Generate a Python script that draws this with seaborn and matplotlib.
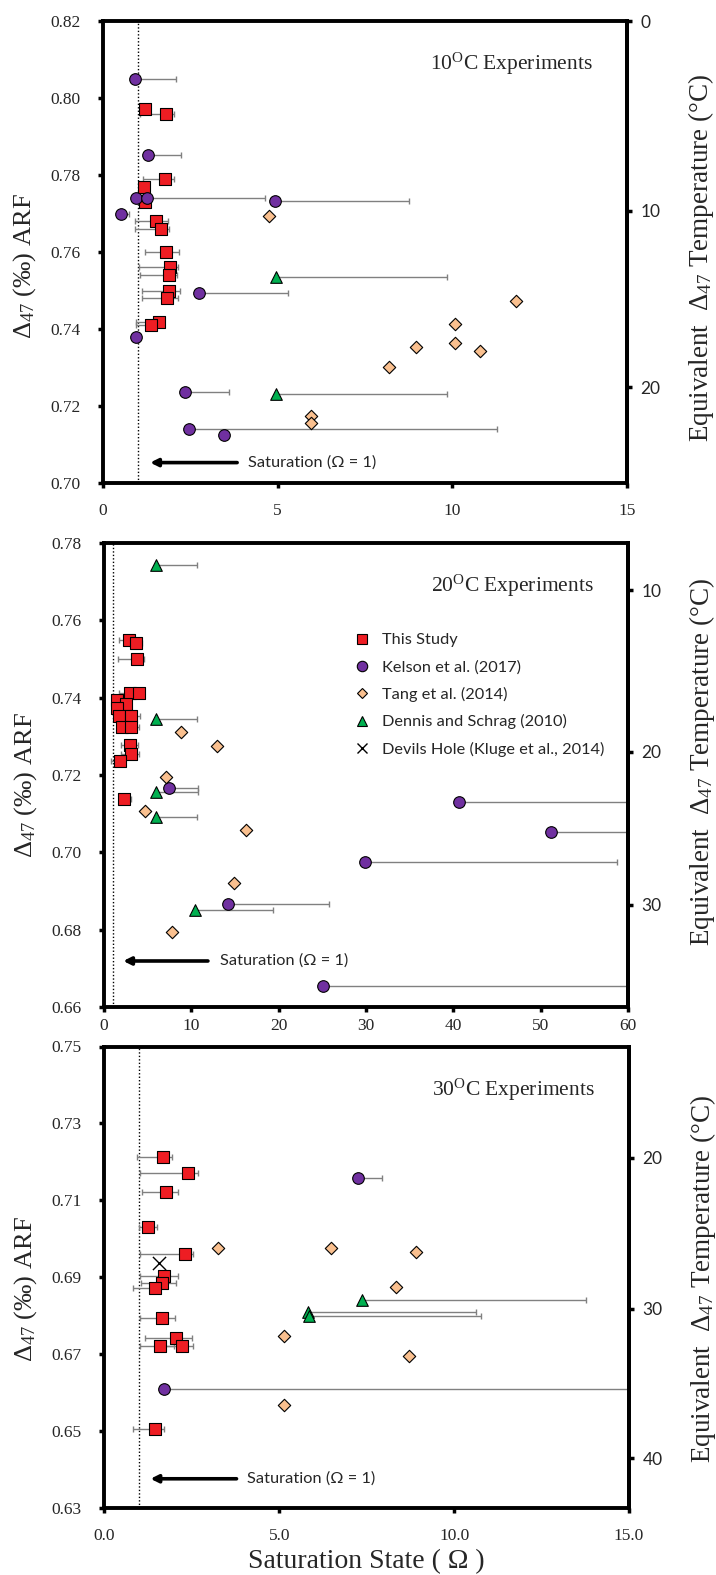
import numpy as np
import pandas as pd
import matplotlib
matplotlib.use("Agg")
import matplotlib.pyplot as plt
from matplotlib.lines import Line2D
import seaborn as sns

# ---------------- DATA ----------------
# Panel 1: 10 C experiments
p10_study_x = [1.19, 1.79, 1.77, 1.16, 1.19, 1.51, 1.67, 1.79, 1.93, 1.88, 1.90, 1.83, 1.59, 1.38]
p10_study_y = [0.7971, 0.7958, 0.7790, 0.7768, 0.7729, 0.7680, 0.7659, 0.7599, 0.7560, 0.7539, 0.7499, 0.7481, 0.7418, 0.7410]
p10_study_lo = [1.19, 1.06, 1.14, 1.16, 1.19, 0.91, 0.91, 1.19, 1.03, 1.06, 1.13, 1.13, 0.94, 0.94]
p10_study_hi = [1.19, 2.04, 2.04, 1.16, 1.19, 1.85, 1.90, 2.18, 2.16, 2.12, 2.21, 2.16, 1.75, 1.60]
p10_kelson_x = [0.92, 1.30, 0.94, 1.27, 4.92, 0.51, 2.74, 0.94, 2.34, 2.45, 3.46]
p10_kelson_y = [0.8049, 0.7852, 0.7740, 0.7740, 0.7732, 0.7698, 0.7494, 0.7380, 0.7237, 0.7141, 0.7124]
p10_kelson_hi = [2.10, 2.24, 0.94, 4.63, 8.75, 0.75, 5.31, 0.94, 3.60, 11.28, 3.46]
p10_tang_x = [4.75, 11.81, 10.07, 10.07, 8.96, 10.78, 8.18, 5.95, 5.95]
p10_tang_y = [0.7694, 0.7474, 0.7413, 0.7363, 0.7353, 0.7344, 0.7302, 0.7175, 0.7155]
p10_dennis_x = [4.96, 4.96]
p10_dennis_y = [0.7536, 0.7230]
p10_dennis_hi = [9.85, 9.85]

# Panel 2: 20 C experiments
p20_study_x = [2.90, 3.62, 3.81, 3.01, 4.00, 1.52, 2.52, 1.52, 1.75, 3.13, 2.10, 3.05, 3.01, 3.09, 1.87, 2.33]
p20_study_y = [0.7549, 0.7541, 0.7500, 0.7413, 0.7413, 0.7394, 0.7383, 0.7373, 0.7353, 0.7353, 0.7323, 0.7323, 0.7277, 0.7254, 0.7235, 0.7138]
p20_study_lo = [1.75, 2.90, 1.64, 1.75, 4.00, 1.52, 2.00, 1.52, 1.75, 2.00, 2.10, 2.00, 2.00, 2.00, 0.76, 2.33]
p20_study_hi = [3.90, 4.38, 4.61, 3.50, 4.00, 1.52, 3.00, 1.52, 1.75, 4.12, 2.10, 4.00, 3.90, 4.00, 1.87, 3.05]
p20_kelson_x = [7.47, 29.9, 14.15, 25.1, 40.65, 51.2]
p20_kelson_y = [0.7166, 0.6975, 0.6866, 0.6654, 0.7131, 0.7052]
p20_kelson_hi = [10.79, 58.7, 25.8, 70.0, 70.0, 70.0]
p20_tang_x = [8.81, 12.97, 7.06, 4.73, 16.29, 14.84, 7.74]
p20_tang_y = [0.7312, 0.7275, 0.7196, 0.7107, 0.7058, 0.6921, 0.6793]
p20_dennis_x = [5.99, 5.99, 5.99, 5.99, 10.37]
p20_dennis_y = [0.7743, 0.7344, 0.7155, 0.7091, 0.6851]
p20_dennis_hi = [10.68, 10.68, 10.79, 10.68, 19.4]

# Panel 3: 30 C experiments
p30_study_x = [1.69, 2.40, 1.75, 1.26, 2.32, 1.71, 1.66, 1.45, 1.66, 2.05, 1.60, 2.23, 1.45]
p30_study_y = [0.7212, 0.7172, 0.7121, 0.7031, 0.6961, 0.6903, 0.6884, 0.6872, 0.6795, 0.6743, 0.6722, 0.6722, 0.6506]
p30_study_lo = [0.93, 1.02, 1.09, 0.98, 1.02, 1.02, 1.04, 0.83, 1.02, 1.15, 1.02, 1.60, 0.83]
p30_study_hi = [1.93, 2.67, 2.10, 1.50, 2.53, 2.10, 2.05, 1.60, 2.02, 2.52, 2.00, 2.55, 1.70]
p30_kelson_x = [7.24, 1.71]
p30_kelson_y = [0.7157, 0.6609]
p30_kelson_hi = [7.94, 20.0]
p30_tang_x = [3.26, 6.47, 8.92, 8.33, 5.14, 8.72, 5.14]
p30_tang_y = [0.6975, 0.6975, 0.6966, 0.6875, 0.6747, 0.6696, 0.6568]
p30_dennis_x = [7.36, 5.81, 5.86]
p30_dennis_y = [0.6840, 0.6809, 0.6798]
p30_dennis_hi = [13.78, 10.63, 10.76]
p30_devils_x = [1.57]
p30_devils_y = [0.6936]

# Right-axis (equivalent temperature) tick labels and their Delta47 positions
p10_T = [0, 10, 20]
p10_T_pos = [0.8200, 0.7707, 0.7249]
p20_T = [10, 20, 30]
p20_T_pos = [0.7678, 0.7260, 0.6864]
p30_T = [20, 30, 40]
p30_T_pos = [0.7211, 0.6818, 0.6429]

series_names = ["This Study", "Kelson et al. (2017)", "Tang et al. (2014)",
                "Dennis and Schrag (2010)", "Devils Hole (Kluge et al., 2014)"]

# ---------------- STYLE ----------------
sns.set_theme(style="white")
SERIF = ["Liberation Serif", "DejaVu Serif"]
SANS = ["Lato", "DejaVu Sans"]
plt.rcParams["font.family"] = SERIF
plt.rcParams["mathtext.fontset"] = "custom"
plt.rcParams["mathtext.rm"] = "Liberation Serif"
plt.rcParams["mathtext.it"] = "Liberation Serif:italic"
plt.rcParams["mathtext.bf"] = "Liberation Serif:bold"

RED = "#EE1D23"
PURPLE = "#7030A0"
TAN = "#FAC08F"
GREEN = "#00B050"
ERR = "#808080"

fig = plt.figure(figsize=(7.16, 15.75), dpi=100)


def errbars(ax, x, y, lo, hi):
    x = np.asarray(x); y = np.asarray(y)
    lo = np.asarray(lo); hi = np.asarray(hi)
    ax.errorbar(x, y, xerr=[x - lo, hi - x], fmt="none", ecolor=ERR,
                elinewidth=1.0, capsize=2.5, capthick=1.0, zorder=2)


def pts(ax, x, y, marker, color, s):
    sns.scatterplot(x=x, y=y, marker=marker, color=color, s=s,
                    edgecolor="black", linewidth=0.8, ax=ax, zorder=3,
                    legend=False)


def panel(rect, xlim, xticks, xfmt, ylim, yticks, Tlab, Tpos, title,
          arrow, ylab_y, rlab_y, data, legend=False, xpad=4):
    ax = fig.add_axes(rect)
    for (kind, d) in data:
        if kind == "study":
            errbars(ax, d[0], d[1], d[2], d[3])
        elif kind in ("kelson", "dennis"):
            errbars(ax, d[0], d[1], d[0], d[2])
    ax.axvline(1.0, color="black", lw=1.0, ls=(0, (1, 1.5)), zorder=1)
    for (kind, d) in data:
        if kind == "study":
            pts(ax, d[0], d[1], "s", RED, 64)
        elif kind == "kelson":
            pts(ax, d[0], d[1], "o", PURPLE, 70)
        elif kind == "tang":
            pts(ax, d[0], d[1], "D", TAN, 40)
        elif kind == "dennis":
            pts(ax, d[0], d[1], "^", GREEN, 70)
        elif kind == "devils":
            sns.scatterplot(x=d[0], y=d[1], marker="x", color="black", s=90,
                            linewidth=1.0, ax=ax, zorder=3, legend=False)
    ax.set_xlim(xlim)
    ax.set_ylim(ylim)
    ax.set_xticks(xticks)
    ax.set_xticklabels([xfmt.format(v) for v in xticks], fontsize=12.5)
    ax.set_yticks(yticks)
    ax.set_yticklabels(["{:.2f}".format(v) for v in yticks], fontsize=12.5)
    for sp in ax.spines.values():
        sp.set_color("black")
        sp.set_linewidth(2.8)
    ax.tick_params(axis="y", direction="out", length=3.6, width=2.5,
                   color="black", pad=12.5, left=True)
    ax.tick_params(axis="x", direction="out", length=3.6, width=2.5,
                   color="black", pad=xpad, bottom=True)
    ax.set_ylabel("Δ$_{47}$ (‰) ARF", fontsize=19)
    ax.yaxis.set_label_coords(-0.125, ylab_y)
    # arrow + saturation text
    ax.annotate("", xy=(arrow[1], arrow[2]), xytext=(arrow[0], arrow[2]),
                arrowprops=dict(arrowstyle="-|>", lw=2.6, color="black",
                                mutation_scale=11, shrinkA=0, shrinkB=0))
    ax.text(arrow[3], arrow[2], "Saturation (Ω = 1)", family=SANS,
            fontsize=11.8, va="center", ha="left")
    ax.text(0.935, 0.907, title, transform=ax.transAxes, fontsize=15.5,
            ha="right", va="center")
    # right axis
    ax2 = ax.twinx()
    ax2.set_ylim(ylim)
    ax2.set_yticks(Tpos)
    ax2.set_yticklabels([str(t) for t in Tlab], family=SANS, fontsize=12.5)
    ax2.grid(False)
    for k, sp in ax2.spines.items():
        sp.set_visible(k == "right")
        sp.set_color("black")
        sp.set_linewidth(2.8)
    ax2.tick_params(axis="y", direction="out", length=3.6, width=2.5,
                    color="black", pad=6, right=True)
    ax2.set_ylabel("Equivalent  Δ$_{47}$ Temperature (°C)", fontsize=19.5)
    ax2.yaxis.set_label_coords(1.113, rlab_y)
    if legend:
        kw = dict(linestyle="none", markeredgecolor="black", markeredgewidth=0.8)
        handles = [
            Line2D([], [], marker="s", markerfacecolor=RED, markersize=7, **kw),
            Line2D([], [], marker="o", markerfacecolor=PURPLE, markersize=7.5, **kw),
            Line2D([], [], marker="D", markerfacecolor=TAN, markersize=5.5, **kw),
            Line2D([], [], marker="^", markerfacecolor=GREEN, markersize=7.5, **kw),
            Line2D([], [], marker="x", color="black", markersize=7.5,
                   linestyle="none", markeredgewidth=1.0),
        ]
        ax.legend(handles, series_names, loc="upper left",
                  bbox_to_anchor=(0.474, 0.806),
                  frameon=False, prop={"family": SANS, "size": 11.8},
                  borderaxespad=0, borderpad=0, handlelength=1.15,
                  handletextpad=0.65, labelspacing=0.76)
    return ax


panel([103 / 716, 1 - 483 / 1575, 524 / 716, 462 / 1575],
      (0, 15), [0, 5, 10, 15], "{:.0f}", (0.70, 0.82),
      np.round(np.arange(0.70, 0.8201, 0.02), 2), p10_T, p10_T_pos,
      "10$^{\\mathrm{O}}$C Experiments", (3.84, 1.35, 0.7053, 4.16),
      0.47, 0.487,
      [("study", (p10_study_x, p10_study_y, p10_study_lo, p10_study_hi)),
       ("kelson", (p10_kelson_x, p10_kelson_y, p10_kelson_hi)),
       ("tang", (p10_tang_x, p10_tang_y)),
       ("dennis", (p10_dennis_x, p10_dennis_y, p10_dennis_hi))],
      xpad=11)

panel([104 / 716, 1 - 1007 / 1575, 524 / 716, 464 / 1575],
      (0, 60), [0, 10, 20, 30, 40, 50, 60], "{:.0f}", (0.66, 0.78),
      np.round(np.arange(0.66, 0.7801, 0.02), 2), p20_T, p20_T_pos,
      "20$^{\\mathrm{O}}$C Experiments", (11.9, 2.2, 0.6719, 13.3),
      0.478, 0.528,
      [("study", (p20_study_x, p20_study_y, p20_study_lo, p20_study_hi)),
       ("kelson", (p20_kelson_x, p20_kelson_y, p20_kelson_hi)),
       ("tang", (p20_tang_x, p20_tang_y)),
       ("dennis", (p20_dennis_x, p20_dennis_y, p20_dennis_hi))],
      legend=True, xpad=4.5)

ax3 = panel([104.3 / 716, 1 - 1508 / 1575, 524.7 / 716, 461.5 / 1575],
            (0, 15), [0, 5, 10, 15], "{:.1f}", (0.63, 0.75),
            np.round(np.arange(0.63, 0.7501, 0.02), 2), p30_T, p30_T_pos,
            "30$^{\\mathrm{O}}$C Experiments", (3.78, 1.32, 0.6376, 4.09),
            0.475, 0.497,
            [("study", (p30_study_x, p30_study_y, p30_study_lo, p30_study_hi)),
             ("kelson", (p30_kelson_x, p30_kelson_y, p30_kelson_hi)),
             ("tang", (p30_tang_x, p30_tang_y)),
             ("dennis", (p30_dennis_x, p30_dennis_y, p30_dennis_hi)),
             ("devils", (p30_devils_x, p30_devils_y))],
            xpad=10.5)
ax3.set_xlabel("Saturation State ( Ω )", fontsize=20)
ax3.xaxis.set_label_coords(0.5, -0.088)

fig.savefig("out.png", dpi=100)
